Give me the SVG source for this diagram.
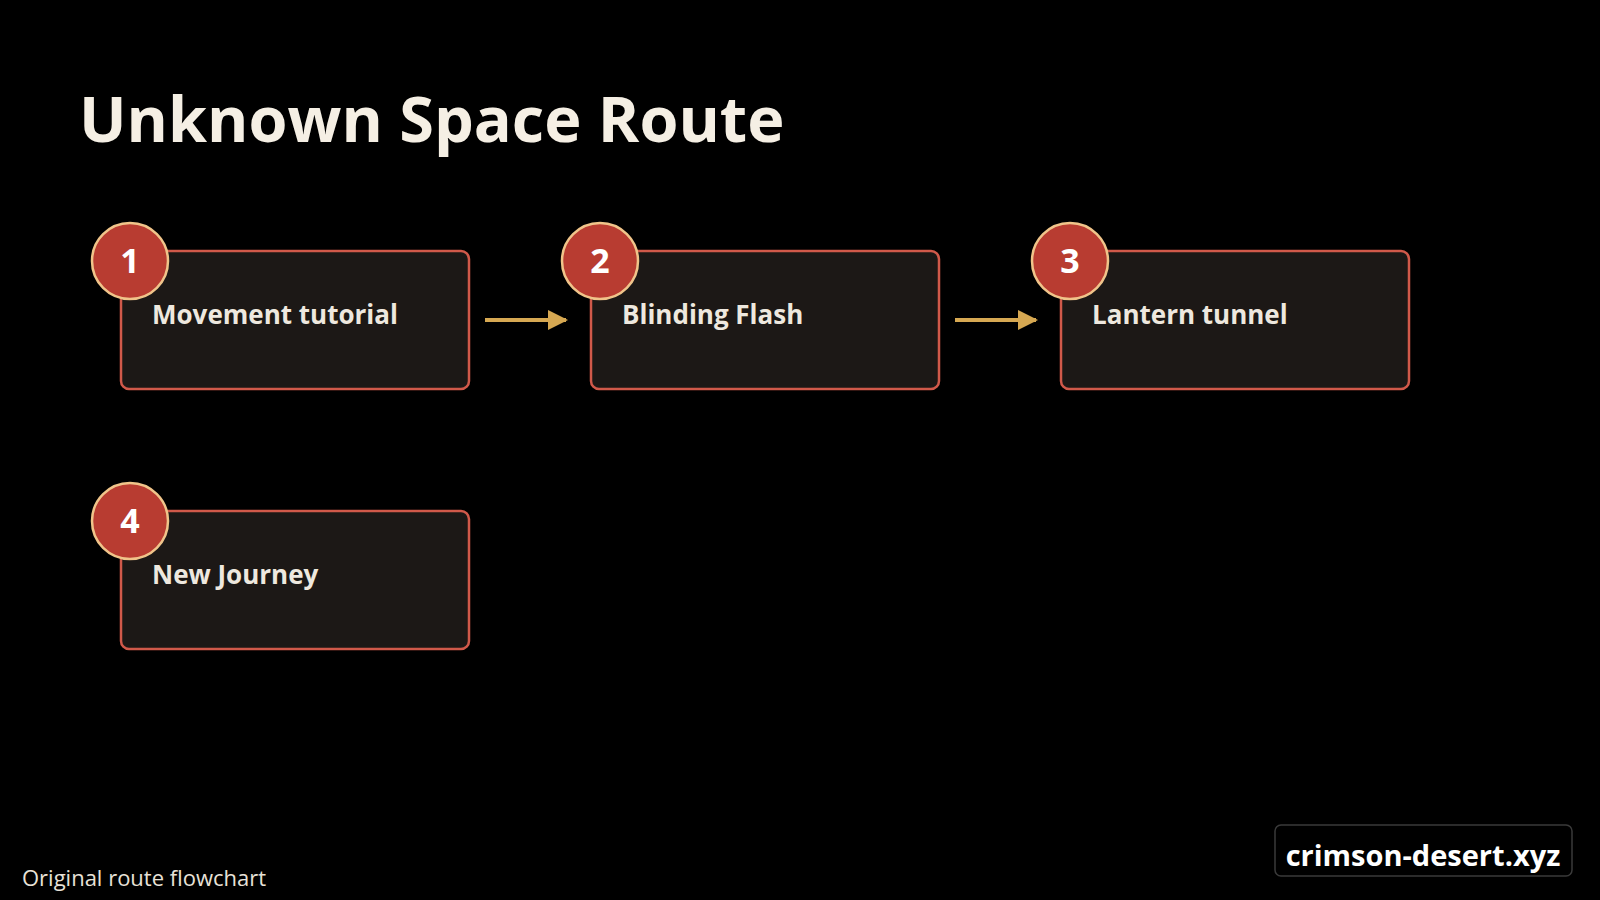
<svg xmlns="http://www.w3.org/2000/svg" width="1600" height="900" viewBox="0 0 1600 900">
<style>
.box{fill:#1c1816;stroke:#d0594a;stroke-width:2.5}
.badge{fill:#b83c31;stroke:#f0c48a;stroke-width:2.5}
.num{font-family:"Open Sans","Noto Sans",sans-serif;font-weight:700;font-size:34px;fill:#fff;text-anchor:middle}
.lbl{font-family:"Open Sans","Noto Sans",sans-serif;font-weight:700;font-size:26px;fill:#eee8df}
.conn{stroke:#d6a852;stroke-width:4;fill:none}
</style>
<defs><marker id="ah" viewBox="0 0 10 10" refX="9" refY="5" markerWidth="5" markerHeight="5" orient="auto"><path d="M0,0L10,5L0,10z" fill="#d6a852"/></marker></defs>
<rect width="1600" height="900" fill="#000"/>
<text x="79" y="142" font-family="Open Sans,Noto Sans,sans-serif" font-weight="700" font-size="63" fill="#f5efe4">Unknown Space Route</text>
<g id="connectors">
<line class="conn" x1="485" y1="320" x2="566" y2="320" marker-end="url(#ah)"/>
<line class="conn" x1="955" y1="320" x2="1036" y2="320" marker-end="url(#ah)"/>
</g>
<g id="n1"><rect class="box" x="121" y="251" width="348" height="138" rx="8"/><circle class="badge" cx="130" cy="261" r="38"/><text class="num" x="130" y="273">1</text><text class="lbl" x="152" y="324">Movement tutorial</text></g>
<g id="n2"><rect class="box" x="591" y="251" width="348" height="138" rx="8"/><circle class="badge" cx="600" cy="261" r="38"/><text class="num" x="600" y="273">2</text><text class="lbl" x="622" y="324">Blinding Flash</text></g>
<g id="n3"><rect class="box" x="1061" y="251" width="348" height="138" rx="8"/><circle class="badge" cx="1070" cy="261" r="38"/><text class="num" x="1070" y="273">3</text><text class="lbl" x="1092" y="324">Lantern tunnel</text></g>
<g id="n4"><rect class="box" x="121" y="511" width="348" height="138" rx="8"/><circle class="badge" cx="130" cy="521" r="38"/><text class="num" x="130" y="533">4</text><text class="lbl" x="152" y="584">New Journey</text></g>
<text x="22" y="886" font-family="Open Sans,Noto Sans,sans-serif" font-size="22" fill="#e8e2d8">Original route flowchart</text>
<g id="brand"><rect x="1275" y="825" width="297" height="51" rx="6" fill="#000" stroke="#3a3a3a" stroke-width="1.5"/><text x="1423" y="866" text-anchor="middle" font-family="Open Sans,Noto Sans,sans-serif" font-weight="700" font-size="29" fill="#fff">crimson-desert.xyz</text></g>
</svg>
